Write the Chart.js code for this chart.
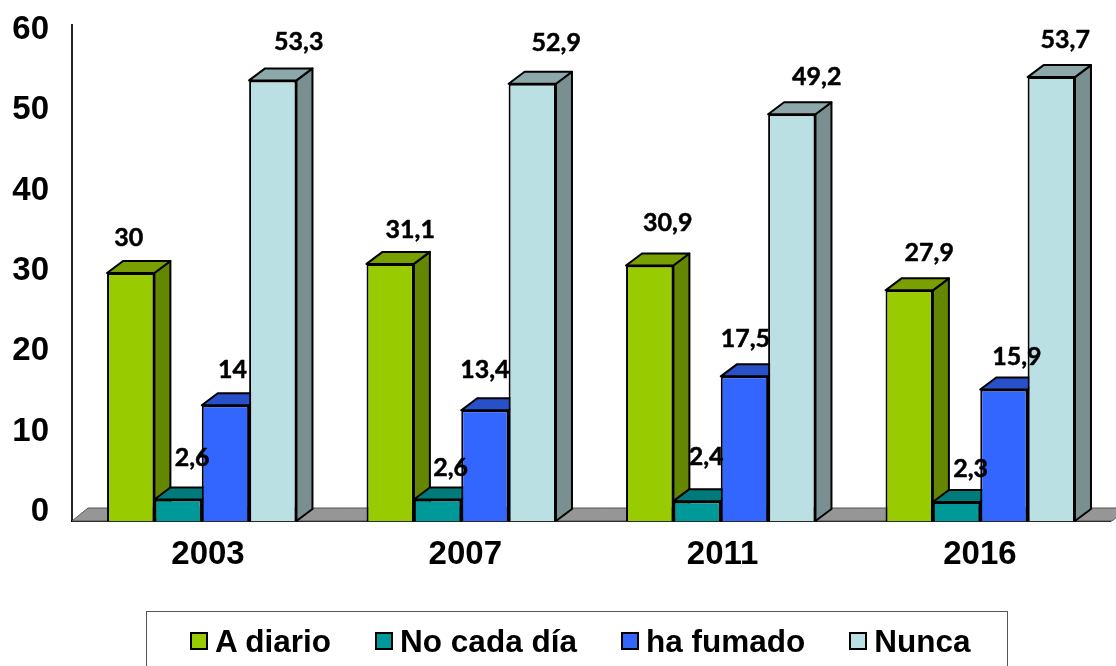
<!DOCTYPE html>
<html lang="es">
<head>
<meta charset="utf-8">
<title>Consumo de tabaco</title>
<script src="https://cdn.jsdelivr.net/npm/chart.js@4"></script>
<style>
html,body{margin:0;padding:0;background:#fff;overflow:hidden}
#wrap{position:relative;width:1116px;height:666px}
#legend{position:absolute;left:146px;top:611px;width:862px;height:60px;box-sizing:border-box;border:1px solid #555;
  display:flex;font:bold 31.5px "Liberation Sans",Arial,sans-serif;color:#000;padding:11px 0 0 43px;white-space:nowrap}
#legend span.it{display:flex;align-items:center;height:36px;margin-right:44px}
#legend i{display:block;width:14px;height:14px;border:2px solid #000;margin-right:7px}
</style>
</head>
<body>
<div id="wrap">
<canvas id="c" width="1116" height="666"></canvas>
<div id="legend"></div>
</div>
<script>
/* data */
const years=['2003','2007','2011','2016'];
const seriesNames=['A diario','No cada día','ha fumado','Nunca'];
const aDiario=[30,31.1,30.9,27.9];
const noCadaDia=[2.6,2.6,2.4,2.3];
const haFumado=[14,13.4,17.5,15.9];
const nunca=[53.3,52.9,49.2,53.7];
const yTicks=[0,10,20,30,40,50,60];

/* colours: front, top, side */
const FRONT=['#99cc00','#009999','#3366ff','#bbe0e3'];
const TOP=['#7a9f00','#007a7a','#2850c8','#8ca8aa'];
const SIDE=['#648600','#006666','#1f409f','#7a9090'];

/* label nudges from the bar's top centre (the original was placed by hand) */
const labelDx=[[-2,20,18,20],[14,13,9,14],[7,0,1,13],[26,24,25,14]];
const labelDy=[[-35,-34,-43,-37],[-42,-32,-44,-33],[-35,-40,-37,-33],[-38,-41,-37,-37]];

const DX=16,DY=12;

function poly(ctx,pts,fill){
  ctx.beginPath();
  pts.forEach((p,i)=>i?ctx.lineTo(p[0],p[1]):ctx.moveTo(p[0],p[1]));
  ctx.closePath();
  ctx.fillStyle=fill;ctx.fill();
  ctx.lineWidth=2;ctx.strokeStyle='#000';ctx.lineJoin='round';ctx.stroke();
}

const box3d={
  id:'box3d',
  beforeDatasetsDraw(chart){
    const {ctx,chartArea:a}=chart;
    ctx.save();
    ctx.beginPath();
    ctx.moveTo(a.left,a.bottom);ctx.lineTo(a.left+DX,a.bottom-DY-1);ctx.lineTo(a.right+18,a.bottom-DY-1);ctx.lineTo(a.right+2,a.bottom);ctx.closePath();
    ctx.fillStyle='#969696';ctx.fill();
    ctx.lineWidth=1;ctx.strokeStyle='#555';ctx.stroke();
    ctx.restore();
  },
  /* default paint order puts the first dataset on top, here it has to go left to right */
  beforeDatasetDraw(){return false;},
  afterDatasetsDraw(chart){
    const ctx=chart.ctx;
    ctx.save();
    chart.data.datasets.forEach((ds,i)=>{
      chart.getDatasetMeta(i).data.forEach(b=>{
        const l=b.x-b.width/2,r=b.x+b.width/2,t=b.y,bt=b.base;
        poly(ctx,[[r,t],[r+DX,t-DY],[r+DX,bt-DY],[r,bt]],SIDE[i]);
        poly(ctx,[[l,t],[l+DX,t-DY],[r+DX,t-DY],[r,t]],TOP[i]);
        b.draw(ctx);
      });
    });
    ctx.font='bold 25px Lato';ctx.fillStyle='#000';ctx.strokeStyle='#000';ctx.lineWidth=.5;
    ctx.textAlign='center';ctx.textBaseline='middle';
    chart.data.datasets.forEach((ds,i)=>{
      chart.getDatasetMeta(i).data.forEach((b,j)=>{
        const txt=String(ds.data[j]).replace('.',',');
        ctx.fillText(txt,b.x+labelDx[i][j],b.y+labelDy[i][j]);
        ctx.strokeText(txt,b.x+labelDx[i][j],b.y+labelDy[i][j]);
      });
    });
    ctx.restore();
  }
};

const seriesData=[aDiario,noCadaDia,haFumado,nunca];
new Chart(document.getElementById('c'),{
  type:'bar',
  data:{labels:years,datasets:seriesNames.map((n,i)=>({
    label:n,data:seriesData[i],backgroundColor:FRONT[i],borderColor:'#000',borderWidth:2,
    barPercentage:1,categoryPercentage:.73
  }))},
  options:{
    responsive:false,animation:false,
    layout:{padding:{top:25,right:6}},
    plugins:{legend:{display:false},tooltip:{enabled:false}},
    scales:{
      x:{display:false},
      y:{display:false,min:0,max:60},
      /* axis labels sit on the back wall of the 3D box, so they get their own scales */
      yLabels:{
        position:'left',min:-1.12,max:60.62,
        afterBuildTicks(s){s.ticks=yTicks.map(v=>({value:v}));},
        afterFit(s){s.width=72;s.paddingTop=0;s.paddingBottom=0;},
        grid:{display:false,drawTicks:false},
        border:{display:true,color:'#222',width:2},
        ticks:{padding:23,color:'#000',font:{family:'Liberation Sans',size:33,weight:'bold'}}
      },
      xLabels:{
        position:'bottom',type:'linear',offset:false,min:-.5286,max:3.5056,
        afterBuildTicks(s){s.ticks=years.map((_,i)=>({value:i}));},
        afterFit(s){s.height=145;s.paddingLeft=0;s.paddingRight=0;},
        grid:{display:false,drawTicks:false},
        border:{display:true,color:'#000',width:2},
        ticks:{padding:14,maxRotation:0,autoSkip:false,color:'#000',font:{family:'Liberation Sans',size:33,weight:'bold'},
          callback:v=>years[v]}
      }
    }
  },
  plugins:[box3d]
});

/* legend */
document.getElementById('legend').innerHTML=seriesNames.map((n,i)=>
  `<span class="it"><i style="background:${FRONT[i]}"></i>${n}</span>`).join('');
</script>
</body>
</html>
